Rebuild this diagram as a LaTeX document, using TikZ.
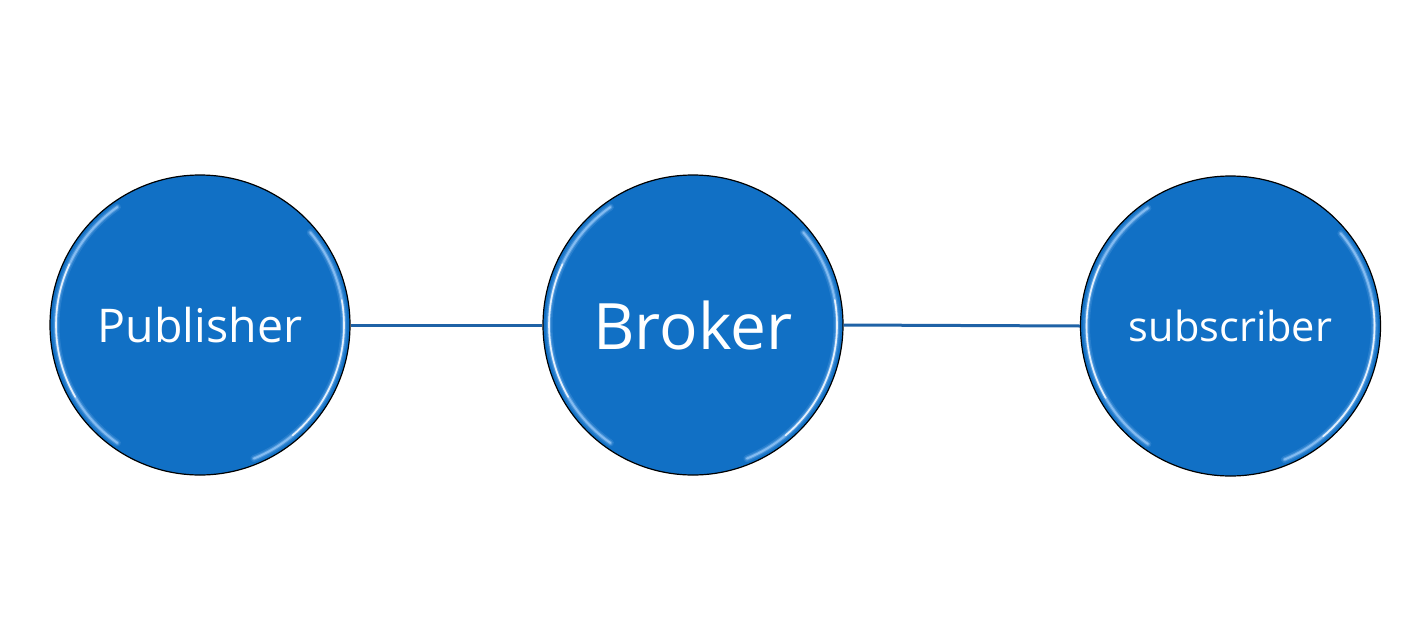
\documentclass[tikz,border=0pt]{standalone}
\usepackage{fontspec}
\setmainfont{Open Sans}
\usetikzlibrary{calc}
\definecolor{ballblue}{HTML}{1170C5}
\definecolor{linkblue}{HTML}{1F62A6}
\definecolor{rimlight}{HTML}{A8D4FF}
\tikzset{
  ball/.style={circle, minimum size=300pt, inner sep=0pt, fill=ballblue, draw=black, line width=1.2pt, text=white},
  link/.style={draw=linkblue, line width=3pt},
  label/.style={text=white},
}
% y axis points down, so angles are mirrored: visual angle t is written -t
\newcommand{\rimglow}[1]{%
  \foreach \w/\o in {7/0.15,4/0.3,2/0.6}{
    \draw[rimlight, line width=\w pt, opacity=\o, line cap=round] ($(#1.center)+(125:144)$) arc[start angle=125, end angle=235, radius=144];
    \draw[rimlight, line width=\w pt, opacity=\o, line cap=round] ($(#1.center)+(-40:144)$) arc[start angle=-40, end angle=68, radius=144];
  }
  \draw[white, line width=1.6pt, opacity=0.8, line cap=round] ($(#1.center)+(150:144)$) arc[start angle=150, end angle=205, radius=144];
  \draw[white, line width=1.6pt, opacity=0.8, line cap=round] ($(#1.center)+(-10:144)$) arc[start angle=-10, end angle=50, radius=144];
}
\begin{document}
\begin{tikzpicture}[x=1pt,y=-1pt]
\useasboundingbox (0,0) rectangle (1410,637);
\node[ball] (pub) at (200,325) {};
\node[ball] (bro) at (693,325) {};
\node[ball] (sub) at (1230.5,326) {};
\rimglow{pub}
\rimglow{bro}
\rimglow{sub}
\node[label, font=\fontsize{46.5}{54}\selectfont] (publ) at (pub.center) {Publisher};
\node[label, font=\fontsize{64}{76}\selectfont] (brol) at (bro.center) {Broker};
\node[label, font=\fontsize{41.5}{48}\selectfont] (subl) at (sub.center) {subscriber};
\draw[link] (pub.east) -- (bro.west);
\draw[link] (bro.east) -- (sub.west);
\end{tikzpicture}
\end{document}
